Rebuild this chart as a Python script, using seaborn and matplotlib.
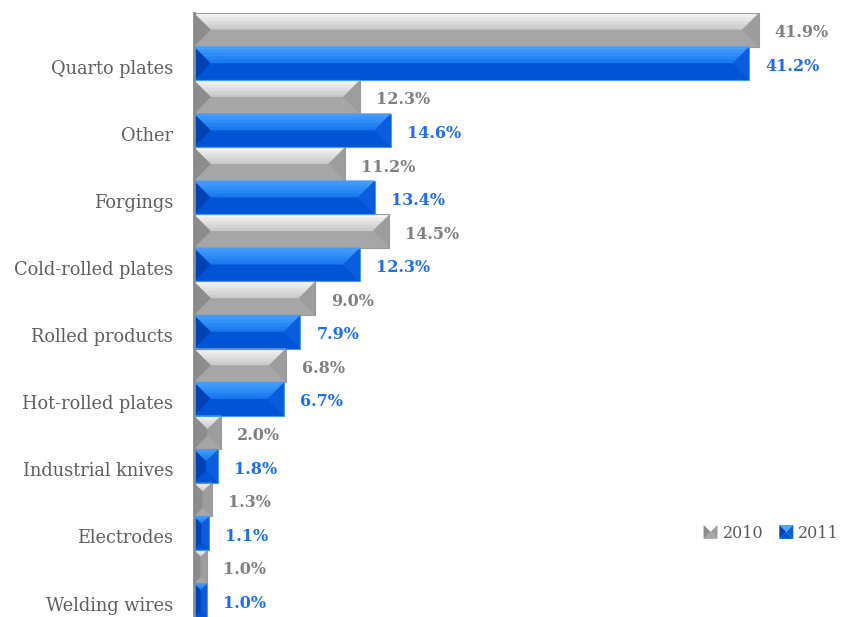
import numpy as np
import pandas as pd
import matplotlib
matplotlib.use("Agg")
import matplotlib.pyplot as plt
import seaborn as sns
from matplotlib.patches import Polygon, Rectangle
from matplotlib.legend_handler import HandlerBase
from matplotlib.colors import to_rgb

categories = ["Quarto plates", "Other", "Forgings", "Cold-rolled plates",
              "Rolled products", "Hot-rolled plates", "Industrial knives",
              "Electrodes", "Welding wires"]
share_2010 = [41.9, 12.3, 11.2, 14.5, 9.0, 6.8, 2.0, 1.3, 1.0]
share_2011 = [41.2, 14.6, 13.4, 12.3, 7.9, 6.7, 1.8, 1.1, 1.0]
years = ["2010", "2011"]

df = pd.DataFrame({
    "category": categories * 2,
    "share": share_2010 + share_2011,
    "year": [years[0]] * len(categories) + [years[1]] * len(categories),
})

# colours of the bevelled faces for each series
styles = {
    "2010": dict(base="#a6a6a6", top=("#fbfbfb", "#c9c9c9"), bottom="#a6a6a6",
                 left="#8c8c8c", right="#9d9d9d", edge="#9a9a9a", label="#7f7f7f"),
    "2011": dict(base="#0056d6", top=("#4aa6ff", "#1677f0"), bottom="#0055d6",
                 left="#0041b3", right="#0a5ddf", edge="#4b98f2", label="#1a6cff"),
}

W, H = 841, 617
fig = plt.figure(figsize=(W / 100, H / 100), dpi=100)
ax = fig.add_axes([194 / W, 0, 1 - 194 / W, 1 - 13 / H])

sns.barplot(data=df, y="category", x="share", hue="year", orient="h",
            order=categories, hue_order=years, width=1.0,
            palette=[styles[y]["base"] for y in years], ax=ax,
            legend=False, saturation=1.0, zorder=1)

ax.set_xlim(0, (W - 194) / 13.48)
ax.set_ylim(len(categories) - 0.5, -0.5)

# pixels per data unit, used to keep the bevels square on screen
sx = ax.bbox.width / (ax.get_xlim()[1] - ax.get_xlim()[0])
sy = ax.bbox.height / abs(ax.get_ylim()[1] - ax.get_ylim()[0])


def mix(c1, c2, t):
    a, b = np.array(to_rgb(c1)), np.array(to_rgb(c2))
    return tuple(a + (b - a) * t)


def bevel(axes, x0, yt, w, h, st, z=2, nstrip=12):
    """Draw a frustum-style bevelled box; yt is the visually upper edge."""
    x1, yb = x0 + w, yt + h
    bpx = min(w * sx, h * sy) / 2.0
    bx, by = bpx / sx, bpx / sy
    arts = []
    # light top face, drawn as a vertical gradient
    for k in range(nstrip):
        t0, t1 = k / nstrip, (k + 1) / nstrip
        pts = [(x0 + t0 * bx, yt + t0 * by), (x1 - t0 * bx, yt + t0 * by),
               (x1 - t1 * bx, yt + t1 * by), (x0 + t1 * bx, yt + t1 * by)]
        col = mix(*st["top"], (t0 + t1) / 2)
        arts.append(Polygon(pts, closed=True, fc=col, ec=col, lw=0.4, zorder=z))
    arts.append(Polygon([(x0, yb), (x1, yb), (x1 - bx, yb - by), (x0 + bx, yb - by)],
                        fc=st["bottom"], ec="none", zorder=z))
    arts.append(Polygon([(x0, yt), (x0 + bx, yt + by), (x0 + bx, yb - by), (x0, yb)],
                        fc=st["left"], ec="none", zorder=z + 0.05))
    arts.append(Polygon([(x1, yt), (x1 - bx, yt + by), (x1 - bx, yb - by), (x1, yb)],
                        fc=st["right"], ec="none", zorder=z + 0.05))
    if w - 2 * bx > 1e-9 and h - 2 * by > 1e-9:
        arts.append(Rectangle((x0 + bx, yt + by), w - 2 * bx, h - 2 * by,
                              fc=st["bottom"], ec="none", zorder=z))
    arts.append(Rectangle((x0, yt), w, h, fc="none", ec=st["edge"], lw=0.8, zorder=z + 0.1))
    for a in arts:
        axes.add_patch(a)
    return arts


for container, year in zip(ax.containers, years):
    st = styles[year]
    for bar in container:
        x0, y0 = bar.get_x(), bar.get_y()
        w, h = bar.get_width(), bar.get_height()
        bevel(ax, x0, y0, w, h, st)
        ax.annotate(f"{w:.1f}%", xy=(x0 + w, y0 + h / 2), xytext=(16, -3),
                    textcoords="offset pixels", ha="left", va="center",
                    fontsize=11.5, fontweight="bold", color=st["label"],
                    family="DejaVu Serif", annotation_clip=False)

ax.set_yticks(np.arange(len(categories)) + 0.3)
ax.set_yticklabels(categories, family="DejaVu Serif", fontsize=12.8, color="#5f5f5f")
ax.tick_params(axis="y", length=0, pad=15)
ax.set_xticks([])
ax.set_xlabel("")
ax.set_ylabel("")
for side in ["top", "right", "bottom"]:
    ax.spines[side].set_visible(False)
ax.spines["left"].set_color("#8a8a8a")
ax.spines["left"].set_linewidth(2.0)
ax.spines["left"].set_zorder(5)


class BevelKey(Rectangle):
    def __init__(self, year):
        super().__init__((0, 0), 1, 1)
        self.year = year


class BevelHandler(HandlerBase):
    def create_artists(self, legend, orig_handle, xdescent, ydescent,
                       width, height, fontsize, trans):
        st = styles[orig_handle.year]
        s = height * 1.25
        x0 = -xdescent + (width - s) / 2
        y0 = -ydescent + (height - s) / 2
        cx, cy = x0 + s / 2, y0 + s / 2
        tl, tr, br, bl = (x0, y0 + s), (x0 + s, y0 + s), (x0 + s, y0), (x0, y0)
        c = (cx, cy)
        faces = [([tl, tr, c], st["top"][0]), ([bl, br, c], st["bottom"]),
                 ([tl, bl, c], st["left"]), ([tr, br, c], st["right"])]
        arts = []
        for pts, col in faces:
            p = Polygon(pts, closed=True, fc=col, ec="none", transform=trans)
            arts.append(p)
        return arts


handles = [BevelKey(y) for y in years]
fig.legend(handles, years, handler_map={BevelKey: BevelHandler()},
           loc="center", bbox_to_anchor=(0.917, 1 - 533 / H), ncol=2,
           frameon=False, handlelength=0.9, handletextpad=0.3,
           columnspacing=1.0, prop=dict(family="DejaVu Serif", size=11.5),
           labelcolor="#595959")

fig.savefig("out.png", dpi=100)
